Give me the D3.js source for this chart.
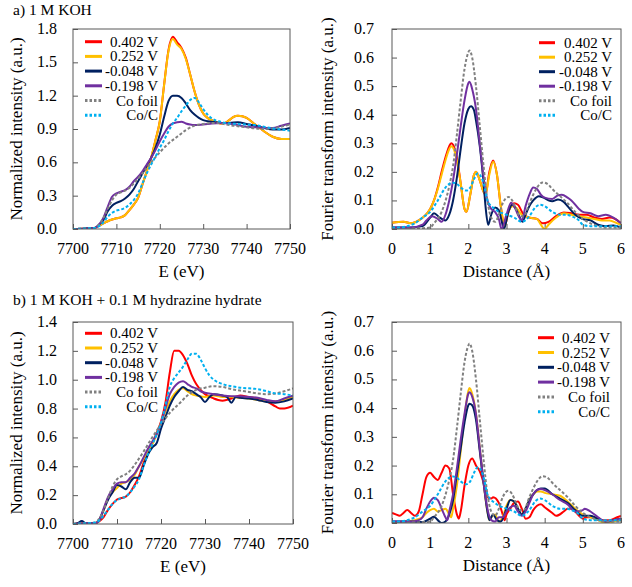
<!DOCTYPE html>
<html><head><meta charset="utf-8">
<script src="https://cdn.jsdelivr.net/npm/d3@7"></script>
<style>
body{margin:0;background:#fff}
svg{display:block}
svg text{font-family:"Liberation Serif","Times New Roman","DejaVu Serif",serif}
</style>
</head><body>
<svg id="c" width="632" height="587"></svg>
<script>
// ---------- Labels / series ----------
const seriesNames  = ["0.402 V","0.252 V","-0.048 V","-0.198 V","Co foil","Co/C"];
const seriesColors = ["#ff0000","#ffc000","#002060","#7030a0","#808080","#00b0f0"];
const seriesDash   = [null,null,null,null,"3,2","3,2"];

const xanesTicksX = [7700,7710,7720,7730,7740,7750];
const xanesTicksYa = [0,0.3,0.6,0.9,1.2,1.5,1.8];
const xanesTicksYb = [0,0.2,0.4,0.6,0.8,1.0,1.2,1.4];
const ftTicksX = [0,1,2,3,4,5,6];
const ftTicksY = [0,0.1,0.2,0.3,0.4,0.5,0.6,0.7];

// ---------- XANES reference spectra ----------
const xanesCoFoil = [[7700,0],[7703,0.005],[7705,0.01],[7706,0.04],[7707,0.1],[7708,0.18],[7709,0.26],[7710,0.31],[7711,0.33],[7712,0.345],[7713,0.37],[7714,0.41],[7716,0.5],[7718,0.6],[7720,0.69],[7722,0.77],[7724,0.83],[7726,0.89],[7728,0.93],[7730,0.945],[7732,0.955],[7734,0.95],[7736,0.935],[7738,0.925],[7740,0.915],[7742,0.905],[7744,0.9],[7746,0.905],[7748,0.92],[7750,0.94]];

// ---------- Panel a) XANES ----------
const aXanes402 = [[7700,0],[7703,0.005],[7705,0.01],[7706,0.03],[7707,0.05],[7708,0.07],[7709,0.085],[7710,0.096],[7711,0.105],[7712,0.125],[7713,0.17],[7714,0.22],[7715,0.28],[7716,0.4],[7717,0.52],[7718,0.64],[7719,0.8],[7720,0.97],[7721,1.3],[7722,1.61],[7723,1.73],[7724,1.68],[7725,1.63],[7726,1.54],[7727,1.39],[7728,1.24],[7729,1.12],[7730,1.04],[7731,1.0],[7732,0.98],[7734,0.95],[7735,0.955],[7736,0.98],[7737,1.01],[7738,1.02],[7739,1.015],[7740,1.0],[7742,0.94],[7744,0.88],[7746,0.83],[7748,0.81],[7750,0.81]];
const aXanes252 = [[7700,0],[7703,0.005],[7705,0.01],[7706,0.03],[7707,0.05],[7708,0.07],[7709,0.085],[7710,0.096],[7711,0.105],[7712,0.125],[7713,0.17],[7714,0.22],[7715,0.28],[7716,0.4],[7717,0.52],[7718,0.64],[7719,0.8],[7720,0.97],[7721,1.3],[7722,1.6],[7723,1.71],[7724,1.66],[7725,1.62],[7726,1.53],[7727,1.39],[7728,1.24],[7729,1.12],[7730,1.04],[7731,1.0],[7732,0.98],[7734,0.95],[7735,0.955],[7736,0.98],[7737,1.01],[7738,1.02],[7739,1.015],[7740,1.0],[7742,0.94],[7744,0.88],[7746,0.83],[7748,0.81],[7750,0.81]];
const aXanesM048 = [[7700,0],[7703,0.005],[7705,0.01],[7706,0.04],[7707,0.08],[7708,0.16],[7709,0.21],[7710,0.235],[7711,0.25],[7712,0.275],[7713,0.31],[7714,0.36],[7715,0.43],[7716,0.5],[7717,0.57],[7718,0.64],[7719,0.73],[7720,0.85],[7721,1.01],[7722,1.15],[7723,1.2],[7724,1.2],[7725,1.18],[7726,1.13],[7727,1.07],[7728,1.03],[7729,1.0],[7730,0.98],[7732,0.965],[7734,0.955],[7736,0.955],[7738,0.96],[7740,0.945],[7742,0.93],[7744,0.91],[7746,0.895],[7748,0.895],[7750,0.91]];
const aXanesM198 = [[7700,0],[7703,0.005],[7705,0.01],[7706,0.04],[7707,0.1],[7708,0.2],[7709,0.29],[7710,0.32],[7711,0.335],[7712,0.35],[7713,0.38],[7714,0.43],[7715,0.47],[7716,0.52],[7717,0.58],[7718,0.64],[7719,0.71],[7720,0.79],[7721,0.86],[7722,0.92],[7723,0.95],[7724,0.96],[7725,0.965],[7726,0.95],[7727,0.94],[7728,0.935],[7730,0.94],[7732,0.95],[7734,0.955],[7736,0.95],[7738,0.935],[7740,0.92],[7742,0.915],[7744,0.91],[7746,0.91],[7748,0.93],[7750,0.95]];
const aXanesCoC = [[7700,0],[7703,0.005],[7705,0.01],[7706,0.025],[7707,0.06],[7708,0.11],[7709,0.145],[7710,0.165],[7711,0.175],[7712,0.19],[7713,0.22],[7714,0.26],[7715,0.32],[7716,0.41],[7717,0.5],[7718,0.58],[7719,0.65],[7720,0.73],[7721,0.8],[7722,0.88],[7723,0.95],[7724,1.0],[7725,1.06],[7726,1.11],[7727,1.16],[7728,1.18],[7729,1.14],[7730,1.08],[7731,1.03],[7732,0.995],[7734,0.965],[7736,0.95],[7738,0.945],[7740,0.94],[7742,0.935],[7744,0.92],[7746,0.905],[7748,0.895],[7750,0.885]];

// ---------- Panel b) XANES ----------
const bXanes402 = [[7700,0],[7702,0.005],[7704,0],[7705,0.005],[7706,0.02],[7707,0.05],[7708,0.1],[7709,0.14],[7710,0.17],[7711,0.18],[7712,0.19],[7713,0.22],[7714,0.27],[7715,0.33],[7716,0.42],[7717,0.5],[7718,0.56],[7719,0.63],[7720,0.71],[7721,0.84],[7722,1.05],[7723,1.2],[7724,1.2],[7725,1.17],[7726,1.11],[7727,1.03],[7728,0.97],[7729,0.93],[7730,0.9],[7732,0.87],[7733,0.86],[7734,0.855],[7736,0.87],[7738,0.89],[7740,0.88],[7742,0.87],[7744,0.85],[7746,0.815],[7747,0.8],[7748,0.8],[7750,0.82]];
const bXanes252 = [[7700,0],[7703,0.005],[7705,0.005],[7706,0.03],[7707,0.1],[7708,0.18],[7709,0.22],[7710,0.25],[7711,0.28],[7712,0.29],[7713,0.31],[7714,0.34],[7715,0.4],[7716,0.45],[7717,0.5],[7718,0.55],[7719,0.62],[7720,0.7],[7721,0.78],[7722,0.85],[7723,0.9],[7724,0.93],[7725,0.94],[7726,0.92],[7727,0.9],[7728,0.89],[7730,0.88],[7732,0.89],[7734,0.88],[7736,0.88],[7738,0.875],[7740,0.87],[7742,0.86],[7744,0.85],[7746,0.85],[7748,0.86],[7750,0.88]];
const bXanesM048 = [[7700,0],[7701,0.005],[7702,0.02],[7703,0.005],[7705,0.005],[7706,0.03],[7707,0.1],[7708,0.17],[7709,0.22],[7710,0.27],[7711,0.26],[7712,0.24],[7713,0.29],[7714,0.32],[7715,0.32],[7716,0.4],[7717,0.48],[7718,0.53],[7719,0.56],[7720,0.66],[7721,0.74],[7722,0.82],[7723,0.88],[7724,0.92],[7725,0.95],[7726,0.93],[7727,0.92],[7728,0.9],[7729,0.88],[7730,0.845],[7731,0.88],[7732,0.9],[7734,0.89],[7735,0.88],[7736,0.84],[7737,0.88],[7738,0.875],[7740,0.87],[7742,0.86],[7744,0.845],[7746,0.84],[7748,0.85],[7750,0.87]];
const bXanesM198 = [[7700,0],[7703,0.005],[7705,0.005],[7706,0.03],[7707,0.11],[7708,0.19],[7709,0.24],[7710,0.28],[7711,0.29],[7712,0.29],[7713,0.32],[7714,0.35],[7715,0.4],[7716,0.46],[7717,0.52],[7718,0.57],[7719,0.62],[7720,0.7],[7721,0.8],[7722,0.9],[7723,0.95],[7724,0.98],[7725,0.99],[7726,0.97],[7727,0.95],[7728,0.94],[7729,0.92],[7730,0.91],[7732,0.9],[7734,0.89],[7736,0.885],[7738,0.885],[7740,0.88],[7742,0.875],[7744,0.86],[7746,0.85],[7748,0.87],[7750,0.89]];
const bXanesCoC = [[7700,0],[7703,0.005],[7705,0.01],[7706,0.025],[7707,0.06],[7708,0.1],[7709,0.14],[7710,0.165],[7711,0.18],[7712,0.19],[7713,0.22],[7714,0.26],[7715,0.31],[7716,0.4],[7717,0.48],[7718,0.55],[7719,0.62],[7720,0.7],[7721,0.82],[7722,0.95],[7723,1.01],[7724,1.05],[7725,1.09],[7726,1.14],[7727,1.18],[7728,1.18],[7729,1.14],[7730,1.08],[7731,1.03],[7732,1.0],[7734,0.97],[7736,0.955],[7738,0.945],[7740,0.94],[7742,0.935],[7744,0.92],[7746,0.905],[7748,0.9],[7750,0.89]];

// ---------- FT reference spectra ----------
const ftCoFoil = [[0,0],[0.8,0.003],[1.0,0.005],[1.1,0.02],[1.3,0.06],[1.5,0.15],[1.6,0.22],[1.7,0.33],[1.8,0.45],[1.9,0.56],[2.0,0.618],[2.03,0.625],[2.1,0.6],[2.2,0.5],[2.3,0.36],[2.4,0.22],[2.5,0.1],[2.6,0.04],[2.7,0.025],[2.8,0.05],[2.9,0.09],[3.05,0.112],[3.15,0.1],[3.25,0.07],[3.35,0.045],[3.45,0.045],[3.6,0.09],[3.7,0.12],[3.8,0.145],[3.95,0.163],[4.1,0.155],[4.2,0.14],[4.4,0.115],[4.6,0.09],[4.8,0.06],[5.0,0.035],[5.2,0.02],[5.4,0.01],[5.6,0.005],[6,0.005]];
const ftCoC = [[0,0.005],[0.2,0.005],[0.4,0.01],[0.6,0.02],[0.8,0.04],[1.0,0.06],[1.2,0.1],[1.4,0.145],[1.5,0.158],[1.6,0.162],[1.7,0.158],[1.8,0.145],[1.95,0.135],[2.05,0.145],[2.15,0.175],[2.25,0.195],[2.3,0.19],[2.4,0.16],[2.5,0.1],[2.6,0.08],[2.7,0.07],[2.8,0.06],[2.9,0.055],[3.0,0.05],[3.2,0.04],[3.4,0.025],[3.6,0.045],[3.75,0.075],[3.88,0.085],[4.0,0.08],[4.2,0.06],[4.4,0.05],[4.55,0.05],[4.7,0.045],[4.9,0.03],[5.0,0.015],[5.2,0.01],[5.4,0.01],[6,0.01]];

// ---------- Panel a) FT ----------
const aFt402 = [[0,0.022],[0.3,0.025],[0.5,0.02],[0.7,0.03],[0.85,0.045],[1.0,0.07],[1.1,0.1],[1.2,0.145],[1.3,0.2],[1.4,0.25],[1.5,0.29],[1.55,0.3],[1.6,0.295],[1.7,0.25],[1.8,0.16],[1.9,0.07],[1.95,0.06],[2.05,0.12],[2.15,0.19],[2.2,0.2],[2.3,0.17],[2.4,0.13],[2.45,0.12],[2.55,0.2],[2.65,0.24],[2.75,0.19],[2.85,0.08],[2.95,0.01],[3.05,0.06],[3.2,0.09],[3.3,0.085],[3.45,0.05],[3.6,0.04],[3.8,0.035],[3.95,0.02],[4.1,0.025],[4.3,0.045],[4.5,0.058],[4.7,0.055],[4.9,0.05],[5.1,0.05],[5.3,0.04],[5.5,0.035],[5.7,0.04],[5.85,0.035],[6,0.02]];
const aFt252 = [[0,0.022],[0.3,0.025],[0.5,0.02],[0.7,0.03],[0.85,0.045],[1.0,0.07],[1.1,0.1],[1.2,0.14],[1.3,0.19],[1.4,0.24],[1.5,0.28],[1.55,0.29],[1.6,0.285],[1.7,0.24],[1.8,0.16],[1.9,0.07],[1.95,0.06],[2.05,0.12],[2.15,0.19],[2.2,0.2],[2.3,0.17],[2.4,0.13],[2.45,0.12],[2.55,0.19],[2.65,0.235],[2.75,0.19],[2.85,0.08],[2.95,0.01],[3.05,0.06],[3.15,0.08],[3.25,0.075],[3.4,0.05],[3.6,0.04],[3.8,0.035],[3.9,0.015],[4.0,0],[4.1,0.015],[4.3,0.04],[4.5,0.055],[4.7,0.05],[4.9,0.045],[5.1,0.04],[5.3,0.035],[5.5,0.03],[5.7,0.03],[5.9,0.02],[6,0.015]];
const aFtM048 = [[0,0.005],[0.5,0.005],[0.8,0.01],[1.0,0.04],[1.1,0.055],[1.25,0.04],[1.4,0.03],[1.5,0.05],[1.6,0.1],[1.7,0.18],[1.8,0.28],[1.9,0.37],[2.0,0.42],[2.07,0.43],[2.15,0.415],[2.2,0.38],[2.3,0.29],[2.4,0.16],[2.45,0.08],[2.52,0.015],[2.6,0.05],[2.7,0.075],[2.8,0.065],[2.87,0.03],[2.93,0],[3.05,0.06],[3.15,0.085],[3.25,0.07],[3.35,0.04],[3.42,0.025],[3.5,0.05],[3.6,0.08],[3.7,0.1],[3.85,0.115],[4.0,0.108],[4.1,0.1],[4.2,0.097],[4.35,0.103],[4.5,0.095],[4.6,0.08],[4.8,0.05],[5.0,0.035],[5.2,0.03],[5.4,0.015],[5.6,0.01],[5.8,0.012],[6,0.005]];
const aFtM198 = [[0,0.005],[0.5,0.005],[0.8,0.015],[0.9,0.03],[1.05,0.045],[1.2,0.035],[1.3,0.025],[1.4,0.05],[1.5,0.1],[1.6,0.17],[1.7,0.26],[1.8,0.36],[1.9,0.45],[2.0,0.51],[2.03,0.515],[2.1,0.49],[2.2,0.42],[2.3,0.3],[2.4,0.18],[2.5,0.1],[2.6,0.07],[2.7,0.06],[2.8,0.035],[2.87,0],[3.0,0.05],[3.12,0.092],[3.2,0.08],[3.3,0.05],[3.4,0.03],[3.5,0.08],[3.6,0.12],[3.7,0.145],[3.8,0.14],[3.9,0.12],[4.0,0.11],[4.2,0.105],[4.35,0.118],[4.45,0.12],[4.6,0.11],[4.7,0.1],[4.9,0.07],[5.0,0.06],[5.2,0.055],[5.4,0.045],[5.6,0.05],[5.8,0.04],[6,0.02]];

// ---------- Panel b) FT ----------
const bFt402 = [[0,0.035],[0.1,0.03],[0.2,0.025],[0.3,0.035],[0.4,0.045],[0.5,0.035],[0.6,0.025],[0.7,0.04],[0.8,0.1],[0.9,0.16],[1.0,0.175],[1.1,0.16],[1.2,0.15],[1.3,0.175],[1.4,0.2],[1.5,0.19],[1.6,0.1],[1.7,0.03],[1.75,0.015],[1.8,0.04],[1.9,0.13],[2.0,0.2],[2.1,0.225],[2.2,0.2],[2.3,0.18],[2.4,0.14],[2.5,0.09],[2.6,0.085],[2.65,0.09],[2.8,0.07],[2.9,0.03],[2.95,0.01],[3.0,0.03],[3.1,0.05],[3.2,0.07],[3.3,0.075],[3.4,0.05],[3.5,0.015],[3.6,0.02],[3.7,0.045],[3.8,0.06],[3.9,0.065],[4.0,0.055],[4.2,0.035],[4.3,0.025],[4.5,0.04],[4.6,0.05],[4.7,0.05],[4.8,0.04],[4.9,0.025],[5.0,0.015],[5.1,0.02],[5.3,0.02],[5.5,0.01],[5.7,0.01],[5.9,0.02],[6,0.025]];
const bFt252 = [[0,0],[0.3,0.005],[0.6,0.01],[0.8,0.02],[0.9,0.035],[1.0,0.045],[1.1,0.05],[1.2,0.04],[1.3,0.045],[1.4,0.05],[1.5,0.03],[1.55,0.02],[1.6,0.05],[1.7,0.13],[1.8,0.25],[1.9,0.37],[2.0,0.46],[2.03,0.47],[2.1,0.45],[2.2,0.38],[2.3,0.26],[2.4,0.14],[2.5,0.04],[2.55,0.01],[2.6,0.02],[2.7,0.03],[2.8,0.005],[2.9,0.02],[3.0,0.06],[3.1,0.08],[3.2,0.075],[3.3,0.05],[3.4,0.03],[3.5,0.05],[3.6,0.08],[3.7,0.1],[3.8,0.11],[3.9,0.11],[4.0,0.105],[4.2,0.1],[4.4,0.095],[4.6,0.075],[4.8,0.05],[5.0,0.03],[5.2,0.02],[5.4,0.01],[5.6,0],[5.8,0.005],[6,0.01]];
const bFtM048 = [[0,0.005],[0.5,0.005],[0.8,0.003],[1.0,0.015],[1.1,0.022],[1.2,0.01],[1.3,0],[1.4,0.005],[1.5,0.03],[1.6,0.08],[1.7,0.17],[1.8,0.26],[1.9,0.35],[2.0,0.41],[2.03,0.415],[2.1,0.41],[2.2,0.36],[2.3,0.25],[2.4,0.14],[2.5,0.04],[2.55,0.01],[2.65,0.03],[2.75,0.01],[2.85,0.005],[3.0,0.05],[3.1,0.08],[3.2,0.075],[3.3,0.05],[3.4,0.03],[3.5,0.05],[3.6,0.08],[3.7,0.1],[3.8,0.115],[3.9,0.12],[4.0,0.12],[4.2,0.1],[4.4,0.085],[4.6,0.07],[4.8,0.045],[5.0,0.025],[5.2,0.025],[5.4,0.015],[5.6,0.005],[5.8,0.01],[6,0.015]];
const bFtM198 = [[0,0.005],[0.5,0.005],[0.7,0.01],[0.8,0.02],[0.9,0.05],[1.0,0.075],[1.1,0.088],[1.2,0.08],[1.3,0.05],[1.4,0.02],[1.45,0.01],[1.5,0.04],[1.6,0.1],[1.7,0.19],[1.8,0.29],[1.9,0.38],[2.0,0.45],[2.03,0.455],[2.1,0.44],[2.2,0.38],[2.3,0.26],[2.4,0.14],[2.5,0.05],[2.6,0.01],[2.7,0.005],[2.8,0.02],[2.9,0.02],[3.0,0.04],[3.1,0.055],[3.2,0.06],[3.3,0.04],[3.4,0.025],[3.5,0.04],[3.6,0.07],[3.7,0.1],[3.8,0.115],[3.9,0.118],[4.0,0.115],[4.2,0.1],[4.4,0.08],[4.6,0.065],[4.8,0.04],[5.0,0.045],[5.05,0.05],[5.2,0.04],[5.4,0.02],[5.6,0.005],[5.8,0.01],[6,0.015]];

// ---------- Panels ----------
const panels = [
  {box:[73,29,290,229], xDomain:[7700,7750], xTicks:xanesTicksX, yDomain:[0,1.8], yTicks:xanesTicksYa,
   series:[aXanes402,aXanes252,aXanesM048,aXanesM198,xanesCoFoil,aXanesCoC],
   xTitle:"E (eV)", yTitle:"Normalized intensity (a.u.)", yTitleX:16, yLabGap:16,
   leg:{x1:85,x2:102,tx:158,y0:41.7,dy:14.7}},
  {box:[392,29,621,229], xDomain:[0,6], xTicks:ftTicksX, yDomain:[0,0.7], yTicks:ftTicksY,
   series:[aFt402,aFt252,aFtM048,aFtM198,ftCoFoil,ftCoC],
   xTitle:"Distance (Å)", yTitle:"Fourier transform intensity (a.u.)", yTitleX:327.5, yLabGap:18,
   leg:{x1:539,x2:555,tx:612,y0:42.7,dy:14.5}},
  {box:[73,322,293,524], xDomain:[7700,7750], xTicks:xanesTicksX, yDomain:[0,1.4], yTicks:xanesTicksYb,
   series:[bXanes402,bXanes252,bXanesM048,bXanesM198,xanesCoFoil,bXanesCoC],
   xTitle:"E (eV)", yTitle:"Normalized intensity (a.u.)", yTitleX:16, yLabGap:16,
   leg:{x1:85,x2:102,tx:158,y0:333.3,dy:14.7}},
  {box:[392,322,621,523], xDomain:[0,6], xTicks:ftTicksX, yDomain:[0,0.7], yTicks:ftTicksY,
   series:[bFt402,bFt252,bFtM048,bFtM198,ftCoFoil,ftCoC],
   xTitle:"Distance (Å)", yTitle:"Fourier transform intensity (a.u.)", yTitleX:327.5, yLabGap:18,
   leg:{x1:538,x2:554,tx:610,y0:337.7,dy:14.8}}
];

const svg = d3.select("#c");
svg.append("rect").attr("width",632).attr("height",587).attr("fill","#fff");

function txt(sel){ return sel.append("text").style("font-family",'"Liberation Serif","Times New Roman","DejaVu Serif",serif').attr("fill","#000"); }

txt(svg).attr("x",13).attr("y",14.5).attr("font-size",15.5).text("a) 1 M KOH");
txt(svg).attr("x",13).attr("y",305).attr("font-size",15.5).text("b) 1 M KOH + 0.1 M hydrazine hydrate");

const fmtY = d3.format(".1f");
let clipId = 0;
panels.forEach(p => {
  const [l,t,r,b] = p.box;
  const x = d3.scaleLinear().domain(p.xDomain).range([l,r]);
  const y = d3.scaleLinear().domain(p.yDomain).range([b,t]);
  const g = svg.append("g");
  const id = "clip"+(clipId++);
  g.append("clipPath").attr("id",id).append("rect").attr("x",l).attr("y",t-2).attr("width",r-l).attr("height",b-t+2);

  // ticks (inside)
  const ya = g.append("g").attr("transform",`translate(${l},0)`)
    .call(d3.axisRight(y).tickValues(p.yTicks).tickSize(5).tickFormat(""));
  ya.select(".domain").remove();
  ya.selectAll("line").attr("stroke","#595959");
  const xa = g.append("g").attr("transform",`translate(0,${b})`)
    .call(d3.axisTop(x).tickValues(p.xTicks).tickSize(5).tickFormat(""));
  xa.select(".domain").remove();
  xa.selectAll("line").attr("stroke","#595959");

  // tick labels
  p.yTicks.forEach(v => {
    txt(g).attr("x",l-p.yLabGap).attr("y",y(v)+5).attr("text-anchor","end").attr("font-size",16).text(fmtY(v));
  });
  p.xTicks.forEach(v => {
    txt(g).attr("x",x(v)).attr("y",b+25).attr("text-anchor","middle").attr("font-size",16).text(v);
  });

  // series
  const line = d3.line().x(d=>x(d[0])).y(d=>y(d[1])).curve(d3.curveMonotoneX);
  const sg = g.append("g").attr("clip-path",`url(#${id})`);
  p.series.forEach((s,i) => {
    sg.append("path").datum(s).attr("d",line).attr("fill","none")
      .attr("stroke",seriesColors[i]).attr("stroke-width",2)
      .attr("stroke-dasharray",seriesDash[i]).attr("stroke-linejoin","round");
  });

  // border
  g.append("rect").attr("x",l).attr("y",t).attr("width",r-l).attr("height",b-t)
    .attr("fill","none").attr("stroke","#595959").attr("stroke-width",1);

  // legend
  seriesNames.forEach((n,i) => {
    const yy = p.leg.y0 + i*p.leg.dy;
    g.append("line").attr("x1",p.leg.x1).attr("x2",p.leg.x2).attr("y1",yy).attr("y2",yy)
      .attr("stroke",seriesColors[i]).attr("stroke-width",3)
      .attr("stroke-dasharray",seriesDash[i] ? "2.5,2" : null);
    txt(g).attr("x",p.leg.tx).attr("y",yy+5).attr("text-anchor","end").attr("font-size",15).text(n);
  });

  // axis titles
  txt(g).attr("x",(l+r)/2).attr("y",b+47.5).attr("text-anchor","middle").attr("font-size",17).text(p.xTitle);
  txt(g).attr("transform",`translate(${p.yTitleX},${(t+b)/2}) rotate(-90)`)
    .attr("text-anchor","middle").attr("dy","0.35em").attr("font-size",17).text(p.yTitle);
});
</script>
</body></html>
